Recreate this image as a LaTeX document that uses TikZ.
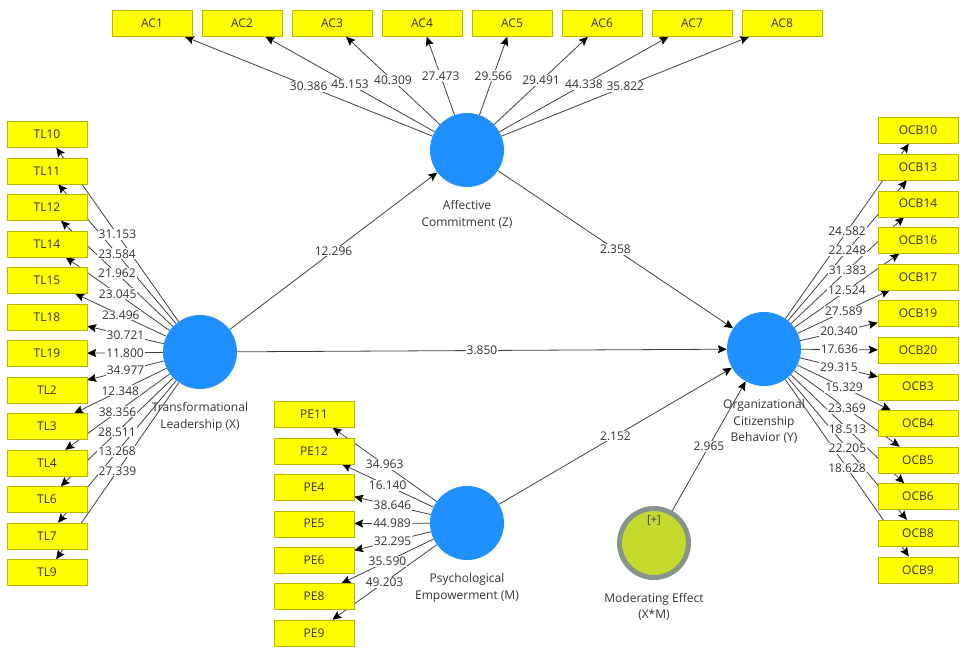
\documentclass[tikz,border=0pt]{standalone}
\usepackage{fontspec}
\setmainfont{Open Sans}
\usetikzlibrary{positioning,arrows.meta,backgrounds}
\definecolor{lvblue}{HTML}{1E90FF}
\definecolor{indyellow}{HTML}{FFFF00}
\definecolor{indborder}{HTML}{B8B800}
\definecolor{edgegray}{HTML}{404040}
\definecolor{modfill}{HTML}{C6DA2E}
\definecolor{modring}{HTML}{87948A}

\begin{document}
\begin{tikzpicture}[x=1pt,y=-1pt,
    every node/.style={font=\fontsize{12}{16.5}\selectfont,text=black!80},
    ind/.style={draw=indborder,fill=indyellow,minimum width=80pt,minimum height=26pt,inner sep=0pt},
    lv/.style={circle,fill=lvblue,minimum size=74pt,inner sep=0pt},
    lvname/.style={align=center,inner sep=1pt},
    load/.style={draw=edgegray,line width=0.8pt,-{Stealth[length=9pt,width=8pt,inset=1.5pt,color=black]}},
    val/.style={fill=white,inner sep=1pt}]
\useasboundingbox (0,0) rectangle (960,648);
% latent variables
\node[lv] (tl) at (200,352) {};
\node[lv] (ac) at (467,150) {};
\node[lv] (ocb) at (764,349) {};
\node[lv] (pe) at (467,523) {};
\node[circle,draw=modring,line width=5pt,fill=modfill,minimum size=69pt,inner sep=0pt] (mod) at (654,543) {};
\node[font=\fontsize{11}{12}\selectfont] (modplus) at ([yshift=-14pt]mod.north) {[+]};
\node[lvname,below=12pt of tl] (tlname) {Transformational\\Leadership (X)};
\node[lvname,below=12pt of ac] (acname) {Affective\\Commitment (Z)};
\node[lvname,below=12pt of ocb] (ocbname) {Organizational\\Citizenship\\Behavior (Y)};
\node[lvname,below=12pt of pe] (pename) {Psychological\\Empowerment (M)};
\node[lvname,below=12pt of mod] (modname) {Moderating Effect\\(X*M)};
% indicators
\foreach \n [count=\i from 0] in {1,2,3,4,5,6,7,8}
  \node[ind] (ac\n) at ({152+90*\i},23.5) {AC\n};
\foreach \n [count=\i from 0] in {10,11,12,14,15,18,19,2,3,4,6,7,9}
  \node[ind] (tl\n) at (47,{134.5+36.5*\i}) {TL\n};
\foreach \n [count=\i from 0] in {10,13,14,16,17,19,20,3,4,5,6,8,9}
  \node[ind] (ocb\n) at (918,{130.5+36.6*\i}) {OCB\n};
\foreach \n [count=\i from 0] in {11,12,4,5,6,8,9}
  \node[ind] (pe\n) at (314,{414.5+36.4*\i}) {PE\n};
% connectors
\begin{scope}[on background layer]
\foreach \n in {1,2,3,4,5,6,7,8}
  \draw[load] (ac) -- (ac\n);
\foreach \n in {10,11,12,14,15,18,19,2,3,4,6,7,9}
  \draw[load] (tl) -- (tl\n);
\foreach \n in {10,13,14,16,17,19,20,3,4,5,6,8,9}
  \draw[load] (ocb) -- (ocb\n);
\foreach \n in {11,12,4,5,6,8,9}
  \draw[load] (pe) -- (pe\n);
\draw[load] (tl) -- (ac);
\draw[load] (ac) -- (ocb);
\draw[load] (tl) -- (ocb);
\draw[load] (pe) -- (ocb);
\draw[load] (mod) -- (ocb);
\end{scope}
% values
\foreach \n/\v in {1/30.386,2/45.153,3/40.309,4/27.473,5/29.566,6/29.491,7/44.338,8/35.822}
  \path (ac) -- node[val] (acv\n) {\v} (ac\n);
\foreach \n/\v in {10/31.153,11/23.584,12/21.962,14/23.045,15/23.496,18/30.721,19/11.800,
    2/34.977,3/12.348,4/38.356,6/28.511,7/13.268,9/27.339}
  \path (tl) -- node[val] (tlv\n) {\v} (tl\n);
\foreach \n/\v in {10/24.582,13/22.248,14/31.383,16/12.524,17/27.589,19/20.340,20/17.636,
    3/29.315,4/15.329,5/23.369,6/18.513,8/22.205,9/18.628}
  \path (ocb) -- node[val] (ocbv\n) {\v} (ocb\n);
\foreach \n/\v in {11/34.963,12/16.140,4/38.646,5/44.989,6/32.295,8/35.590,9/49.203}
  \path (pe) -- node[val] (pev\n) {\v} (pe\n);
\path (tl) -- node[val] (tlac) {12.296} (ac);
\path (ac) -- node[val] (acocb) {2.358} (ocb);
\path (tl) -- node[val] (tlocb) {3.850} (ocb);
\path (pe) -- node[val] (peocb) {2.152} (ocb);
\path (mod) -- node[val] (modocb) {2.965} (ocb);
\end{tikzpicture}
\end{document}
